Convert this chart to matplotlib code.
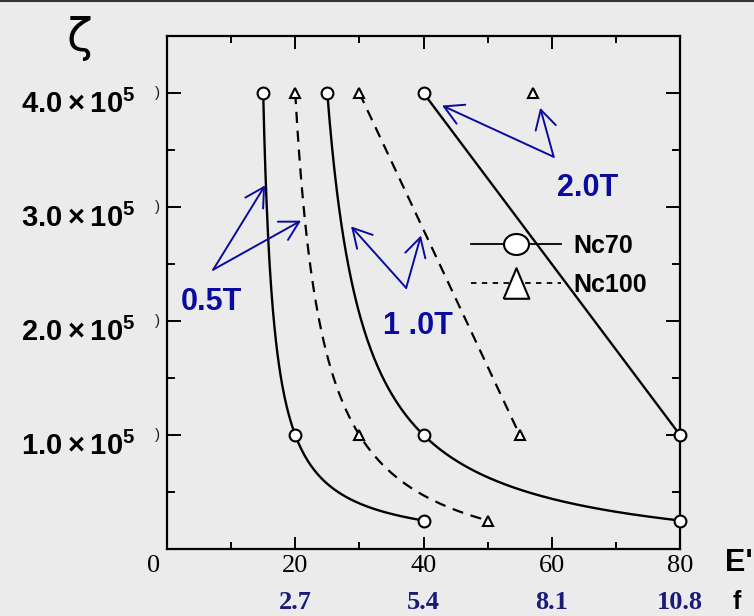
import numpy as np
import matplotlib
matplotlib.use("Agg")
import matplotlib.pyplot as plt
from matplotlib.lines import Line2D
from matplotlib.transforms import ScaledTranslation, blended_transform_factory

# colours
BG = "#ebebeb"
INK = "black"
BLUE = "#0a0aa0"
NAVY = "#1a1a7a"

plt.rcParams["font.family"] = ["Liberation Sans", "DejaVu Sans"]
plt.rcParams["mathtext.fontset"] = "custom"
plt.rcParams["mathtext.bf"] = "Liberation Sans:bold"
plt.rcParams["mathtext.rm"] = "Liberation Sans"

# ---------- data (E' values, xi values) -----------------------------------
E_NC70_05 = [15, 20, 40]
XI_NC70_05 = [4.0e5, 1.0e5, 0.25e5]
E_NC70_10 = [25, 40, 80]
XI_NC70_10 = [4.0e5, 1.0e5, 0.25e5]
E_NC70_20 = [40, 80]
XI_NC70_20 = [4.0e5, 1.0e5]

E_NC100_05 = [20, 30, 50]
XI_NC100_05 = [4.0e5, 1.0e5, 0.25e5]
E_NC100_10 = [30, 55]
XI_NC100_10 = [4.0e5, 1.0e5]
E_NC100_20 = [57]
XI_NC100_20 = [4.0e5]

X_TICKS = [0, 20, 40, 60, 80]
F_VALUES = ["2.7", "5.4", "8.1", "10.8"]
F_AT = [20, 40, 60, 80]
Y_TICKS = [1.0e5, 2.0e5, 3.0e5, 4.0e5]
Y_LABELS = [r"$\mathbf{1.0\times10^5}$", r"$\mathbf{2.0\times10^5}$",
            r"$\mathbf{3.0\times10^5}$", r"$\mathbf{4.0\times10^5}$"]


def smooth(xs, ys):
    """hyperbola a/(x-b)+c through three points, straight line otherwise"""
    if len(xs) != 3:
        return xs, ys
    x1, x2, x3 = xs
    y1, y2, y3 = ys
    r = (y1 - y2) / (y2 - y3)
    b = ((x2 - x1) * x3 - r * (x3 - x2) * x1) / ((x2 - x1) - r * (x3 - x2))
    a = (y1 - y2) * (x1 - b) * (x2 - b) / (x2 - x1)
    c = y2 - a / (x2 - b)
    xx = np.linspace(x1, x3, 300)
    return xx, a / (xx - b) + c


fig = plt.figure(figsize=(7.54, 6.16), dpi=100)
fig.patch.set_facecolor(BG)
ax = fig.add_axes([167 / 754, 1 - 549 / 616, 513 / 754, 513 / 616])
ax.set_facecolor(BG)
ax.set_xlim(0, 80)
ax.set_ylim(0, 4.5e5)

# top border of the figure
fig.add_artist(Line2D([0, 1], [0.9985, 0.9985], color="#333333", lw=1.5,
                      transform=fig.transFigure))

# ---------- curves ---------------------------------------------------------
DASH = (0, (5, 3.5))
for xs, ys in [(E_NC70_05, XI_NC70_05), (E_NC70_10, XI_NC70_10),
               (E_NC70_20, XI_NC70_20)]:
    xx, yy = smooth(xs, ys)
    ax.plot(xx, yy, color=INK, lw=1.7, zorder=2)
    ax.plot(xs, ys, ls="none", marker="o", ms=8.5, mfc="white",
            mec=INK, mew=1.5, zorder=4, clip_on=False)

for xs, ys in [(E_NC100_05, XI_NC100_05), (E_NC100_10, XI_NC100_10),
               (E_NC100_20, XI_NC100_20)]:
    xx, yy = smooth(xs, ys)
    ax.plot(xx, yy, color=INK, lw=1.6, ls=DASH, zorder=2)
    ax.plot(xs, ys, ls="none", marker="^", ms=7, mfc="white",
            mec=INK, mew=1.5, zorder=4, clip_on=False)

# ---------- arrows + field labels -----------------------------------------
def arrows(tail, heads):
    for h in heads:
        ax.annotate("", xy=h, xytext=tail,
                    arrowprops=dict(arrowstyle="->,head_length=0.9,head_width=0.5",
                                    color=BLUE, lw=1.4, mutation_scale=15,
                                    shrinkA=0, shrinkB=0))

arrows((7.2, 2.45e5), [(15.3, 3.19e5), (20.9, 2.88e5)])
ax.text(6.9, 2.17e5, "0.5T", color=BLUE, fontsize=22, fontweight="bold",
        ha="center", va="center")
arrows((37.3, 2.29e5), [(28.7, 2.83e5), (39.6, 2.75e5)])
ax.text(39.1, 1.96e5, "1 .0T", color=BLUE, fontsize=22, fontweight="bold",
        ha="center", va="center")
arrows((60.3, 3.44e5), [(42.9, 3.89e5), (58.2, 3.87e5)])
ax.text(65.6, 3.17e5, "2.0T", color=BLUE, fontsize=22, fontweight="bold",
        ha="center", va="center")

# ---------- legend ---------------------------------------------------------
tri = [(-0.42, -0.5), (0.42, -0.5), (0.0, 0.5), (-0.42, -0.5)]
t = np.linspace(0, 2 * np.pi, 41)
oval = list(zip(0.5 * np.cos(t), 0.42 * np.sin(t)))
handles = [
    Line2D([], [], color=INK, lw=1.3, marker=oval, ms=18, mfc="white",
           mec=INK, mew=1.5, label="Nc70"),
    Line2D([], [], color=INK, lw=1.3, ls=(0, (3, 3)), marker=tri, ms=22,
           mfc="white", mec=INK, mew=1.5, label="Nc100"),
]
ax.legend(handles=handles, loc="upper left", bbox_to_anchor=(0.593, 0.615),
          frameon=False, prop=dict(size=18, weight="bold"),
          handlelength=3.6, handletextpad=0.5, labelspacing=0.6,
          borderpad=0, borderaxespad=0)

# ---------- axes styling ---------------------------------------------------
for s in ax.spines.values():
    s.set_linewidth(1.6)
ax.set_xticks(X_TICKS)
ax.set_xticks([10, 30, 50, 70], minor=True)
ax.set_yticks(Y_TICKS)
ax.set_yticks([0.5e5, 1.5e5, 2.5e5, 3.5e5], minor=True)
ax.set_yticklabels(Y_LABELS)
ax.set_xticklabels([str(v) for v in X_TICKS])
ax.tick_params(which="both", direction="in", top=True, right=True, width=1.4)
ax.tick_params(axis="y", which="major", length=10, pad=23, labelsize=21)
ax.tick_params(axis="y", which="minor", length=6)
ax.tick_params(axis="x", which="major", length=9, pad=4, labelsize=19)
ax.tick_params(axis="x", which="minor", length=5)
for lab in ax.get_xticklabels():
    lab.set_fontfamily("Liberation Serif")
for lab in ax.get_yticklabels():
    lab.set_transform(lab.get_transform() + ScaledTranslation(0, -6 / 72, fig.dpi_scale_trans))
ax.get_xticklabels()[0].set_transform(
    ax.get_xticklabels()[0].get_transform() + ScaledTranslation(-10 / 72, 0, fig.dpi_scale_trans))

# stray ')' marks left of the major y ticks
ytrans = blended_transform_factory(ax.transAxes, ax.transData)
for v in Y_TICKS:
    ax.text(-0.018, v, ")", transform=ytrans, fontsize=11, ha="center",
            va="center", color="#222222")

# second axis row: f values
xtrans = blended_transform_factory(ax.transData, ax.transAxes)
for x, f in zip(F_AT, F_VALUES):
    ax.text(x, -0.105, f, transform=xtrans, ha="center", va="center",
            fontsize=19, fontweight="bold", color=NAVY,
            fontfamily="Liberation Serif", clip_on=False)

ax.text(1.115, -0.027, "E'", transform=ax.transAxes, ha="center",
        va="center", fontsize=22, fontweight="bold")
ax.text(1.11, -0.103, "f", transform=ax.transAxes, ha="center",
        va="center", fontsize=18, fontweight="bold")
ax.text(-0.17, 0.995, "ζ", transform=ax.transAxes, ha="center",
        va="center", fontsize=34, fontfamily="DejaVu Sans")

fig.savefig("out.png", dpi=100, facecolor=BG)
